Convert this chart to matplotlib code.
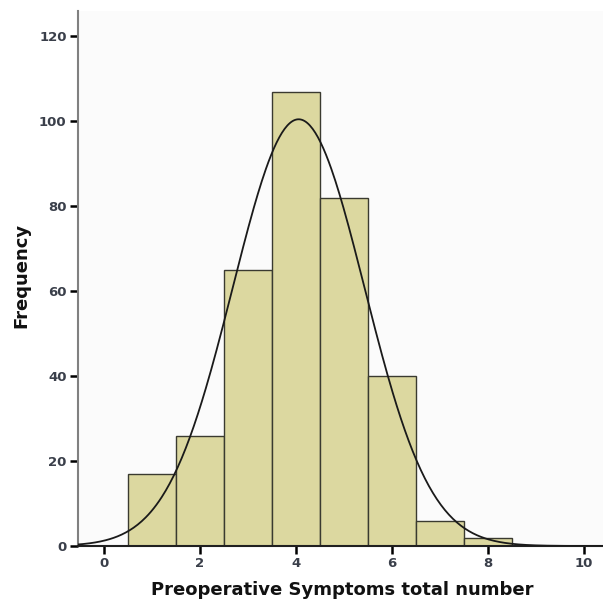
import numpy as np
from matplotlib import pyplot as plt

# histogram counts
symptoms = [1, 2, 3, 4, 5, 6, 7, 8]
frequency = [17, 26, 65, 107, 82, 40, 6, 2]
x_ticks = [0, 2, 4, 6, 8, 10]
y_ticks = [0, 20, 40, 60, 80, 100, 120]

# fitted normal curve (SPSS style)
mean = 4.06
std_dev = 1.37
n_total = sum(frequency)

fig = plt.figure(figsize=(6.03, 6.01), dpi=100)
ax = fig.add_axes([0.129, 0.0915, 0.871, 0.8905])
ax.set_facecolor('#fbfbfb')

ax.bar(symptoms, frequency, width=1.0, color='#dcd8a0', edgecolor='#3a3a30', linewidth=1.0, zorder=2)

xs = np.linspace(-0.6, 10.5, 400)
curve = n_total / (std_dev * np.sqrt(2 * np.pi)) * np.exp(-0.5 * ((xs - mean) / std_dev) ** 2)
ax.plot(xs, curve, color='#1a1a1a', linewidth=1.3, zorder=3)

ax.set_xlim(-0.54, 10.4)
ax.set_ylim(0, 126)
ax.set_xticks(x_ticks)
ax.set_yticks(y_ticks)
for lab in ax.get_xticklabels() + ax.get_yticklabels():
    lab.set_fontweight('bold')
    lab.set_color('#3a3f4a')
    lab.set_fontsize(9.5)
ax.tick_params(axis='both', direction='out', length=6, width=1.8, color='black', pad=2)

ax.spines['top'].set_visible(False)
ax.spines['right'].set_visible(False)
ax.spines['left'].set_color('#808080')
ax.spines['left'].set_linewidth(1.5)
ax.spines['bottom'].set_color('#202020')
ax.spines['bottom'].set_linewidth(1.5)

fig.text(0.567, 0.010, 'Preoperative Symptoms total number', ha='center', va='baseline',
         fontsize=13, fontweight='bold', color='#111111')
fig.text(0.036, 0.541, 'Frequency', ha='center', va='center', rotation=90,
         fontsize=13, fontweight='bold', color='#111111')

plt.savefig('out.png', dpi=100)
